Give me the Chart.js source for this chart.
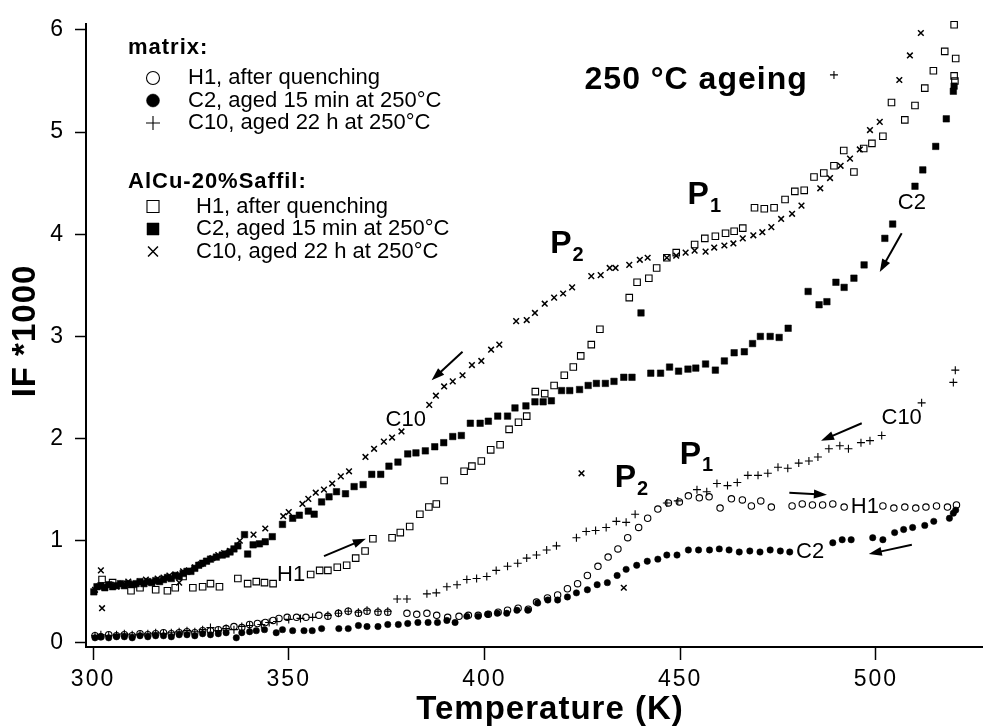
<!DOCTYPE html>
<html lang="en">
<head>
<meta charset="utf-8">
<title>IF *1000 vs Temperature - 250 °C ageing</title>
<script src="https://cdn.jsdelivr.net/npm/chart.js@4.4.1/dist/chart.umd.min.js"></script>
<style>
    html, body { margin: 0; padding: 0; background: #fff; }
    #wrap { width: 988px; height: 728px; }
</style>
</head>
<body>
<div id="wrap"><canvas id="chart" width="988" height="728"></canvas></div>
<script>
/* ============================================
   IF*1000 vs TEMPERATURE - 250 °C ageing
   ============================================ */

const FONT = "'Liberation Sans', Arial, Helvetica, sans-serif";

// ============================================
// DATA
// ============================================

const xTicks = [300, 350, 400, 450, 500];
const yTicks = [0, 1, 2, 3, 4, 5, 6];

// matrix - H1, after quenching (open circles)
const matrixH1T = [300.5, 302, 304, 306, 308, 310, 312, 314, 316, 318, 320, 322, 324, 326, 328, 330, 332, 334, 336, 338,
    340, 342, 344, 346, 347.5, 349.6, 352, 354.4, 357.7, 360, 362.7, 365.2, 367.8, 370, 372.8, 375.3, 380.2, 382.7, 385.3,
    387.8, 390.6, 393.5, 395.9, 398.4, 401, 403.5, 405.9, 408.6, 411.2, 413.3, 416.1, 418.7, 421.2, 423.8, 426.3, 429,
    431.6, 434.1, 436.6, 439.4, 441.7, 444.3, 447, 449.8, 452.1, 454.9, 457.4, 460.2, 463.1, 465.9, 468.2, 470.6, 473.3,
    478.6, 481.2, 483.8, 486.4, 489, 491.9, 501.8, 504.6, 507.4, 510.2, 512.8, 515.5, 518.3, 520.6];
const matrixH1IF = [0.07, 0.06, 0.08, 0.07, 0.08, 0.07, 0.09, 0.08, 0.09, 0.10, 0.09, 0.10, 0.11, 0.10, 0.12, 0.12, 0.13, 0.14, 0.16, 0.15,
    0.18, 0.19, 0.20, 0.22, 0.24, 0.25, 0.25, 0.25, 0.27, 0.26, 0.29, 0.31, 0.29, 0.31, 0.30, 0.30, 0.29, 0.28, 0.29,
    0.27, 0.25, 0.26, 0.27, 0.27, 0.28, 0.30, 0.32, 0.34, 0.33, 0.40, 0.44, 0.47, 0.53, 0.58, 0.66, 0.75,
    0.84, 0.92, 1.03, 1.13, 1.22, 1.31, 1.37, 1.38, 1.44, 1.42, 1.43, 1.32, 1.41, 1.40, 1.34, 1.39, 1.33,
    1.34, 1.36, 1.35, 1.35, 1.36, 1.33, 1.34, 1.32, 1.33, 1.32, 1.33, 1.34, 1.33, 1.35];

// matrix - C2, aged 15 min at 250 °C (filled circles)
const matrixC2T = [300.5, 302, 304, 306, 308, 310, 312, 314, 316, 318, 320, 322, 324, 326, 328, 330, 332, 334, 336.6, 338,
    340, 341.7, 343.8, 346.8, 348.4, 351, 353.9, 356, 358.4, 362.8, 365.2, 367.8, 370, 372.8, 375.3, 378, 380.4, 383,
    385.6, 388, 390.4, 392.5, 395.5, 398.4, 400.8, 403.3, 405.7, 408.3, 411.1, 413.6, 416.2, 418.7, 421.2, 423.5, 426.3,
    428.8, 431.4, 433.9, 436.2, 438.9, 441.6, 444.3, 446.6, 449.2, 452.1, 454.7, 457.5, 460, 462.5, 465.1, 467.8, 470.4,
    473, 475.6, 478, 489, 491.4, 493.7, 499.2, 501.8, 504.8, 507.1, 509.4, 512.5, 514.8, 518.8, 519.8, 520.4];
const matrixC2IF = [0.05, 0.06, 0.05, 0.06, 0.06, 0.05, 0.07, 0.06, 0.07, 0.07, 0.06, 0.08, 0.08, 0.07, 0.09, 0.08, 0.09, 0.10, 0.05, 0.10,
    0.11, 0.12, 0.13, 0.10, 0.13, 0.12, 0.12, 0.12, 0.14, 0.14, 0.14, 0.17, 0.16, 0.16, 0.18, 0.18, 0.19, 0.20,
    0.20, 0.20, 0.22, 0.20, 0.26, 0.26, 0.28, 0.29, 0.29, 0.32, 0.32, 0.39, 0.42, 0.42, 0.45, 0.49, 0.52,
    0.57, 0.59, 0.66, 0.72, 0.76, 0.80, 0.82, 0.86, 0.86, 0.91, 0.91, 0.91, 0.92, 0.91, 0.89, 0.90, 0.89,
    0.91, 0.90, 0.89, 0.98, 1.01, 1.01, 1.03, 1.01, 1.08, 1.11, 1.13, 1.15, 1.19, 1.22, 1.27, 1.30];

// matrix - C10, aged 22 h at 250 °C (plus)
const matrixC10T = [300.5, 302, 304, 306, 308, 310, 312, 314, 316, 318, 320, 322, 324, 326, 328, 330, 332, 334, 336, 338,
    340, 343, 345, 347, 350, 353, 356.1, 360, 362.7, 365.2, 367.8, 370, 372.8, 375.3, 377.7, 380.2, 385.3, 387.7, 390.4,
    393, 395.5, 398, 400.6, 403, 405.9, 408.5, 410.8, 413.3, 415.9, 418.4, 423.5, 426, 428.4, 431.1, 433.7, 436.2, 438.5,
    446.6, 449.4, 454.3, 456.8, 459.4, 462.1, 464.6, 467.3, 469.9, 472.4, 475, 477.5, 480.3, 482.9, 485.2, 488, 490.8,
    493, 496.2, 498.5, 501.5, 511.7, 519.8, 520.3, 489.3];
const matrixC10IF = [0.07, 0.08, 0.07, 0.08, 0.09, 0.08, 0.08, 0.09, 0.10, 0.09, 0.10, 0.11, 0.12, 0.11, 0.13, 0.15, 0.12, 0.14, 0.13, 0.16,
    0.17, 0.18, 0.20, 0.21, 0.23, 0.24, 0.25, 0.27, 0.29, 0.31, 0.30, 0.32, 0.31, 0.31, 0.43, 0.43, 0.48, 0.49, 0.55,
    0.57, 0.62, 0.63, 0.65, 0.71, 0.75, 0.78, 0.83, 0.86, 0.91, 0.95, 1.03, 1.09, 1.10, 1.13, 1.19, 1.18, 1.26,
    1.37, 1.39, 1.50, 1.48, 1.56, 1.54, 1.57, 1.64, 1.64, 1.66, 1.72, 1.71, 1.76, 1.78, 1.82, 1.90, 1.93,
    1.90, 1.96, 1.98, 2.03, 2.35, 2.55, 2.67, 5.56];

// AlCu-20%Saffil - H1, after quenching (open squares)
const saffilH1T = [302.3, 305, 309.7, 312, 316, 319, 321, 323, 325.5, 328, 330, 332.3, 337, 339.5, 341.7, 343.8, 346,
    355.6, 357.9, 360, 362.4, 364.8, 367.1, 369.5, 371.5, 376.4, 378.5, 380.9, 383.5, 385.8, 387.7, 389.7, 394.8, 396.8,
    399.2, 401.6, 404, 406.3, 408.7, 410.8, 413, 415.4, 417.8, 420.4, 422.7, 424.6, 427.3, 429.5, 437, 439, 442, 444,
    446.6, 449, 453.7, 456.3, 459, 461.6, 463.8, 466, 469, 471.5, 474, 476.8, 479.3, 481.7, 484.2, 486.7, 489.3, 491.8,
    494.4, 496.9, 499, 501.8, 504, 507.4, 510, 512.5, 514.7, 517.6, 520.4, 520, 520, 520.2];
const saffilH1IF = [0.62, 0.59, 0.51, 0.54, 0.52, 0.51, 0.54, 0.65, 0.54, 0.55, 0.58, 0.55, 0.63, 0.58, 0.60, 0.59, 0.58,
    0.67, 0.71, 0.71, 0.74, 0.76, 0.83, 0.90, 1.02, 1.03, 1.08, 1.14, 1.26, 1.33, 1.36, 1.59, 1.68, 1.73,
    1.78, 1.89, 1.94, 2.09, 2.16, 2.22, 2.46, 2.44, 2.52, 2.62, 2.70, 2.81, 2.92, 3.07, 3.38, 3.53, 3.57, 3.67,
    3.77, 3.82, 3.90, 3.96, 3.98, 4.01, 4.03, 4.06, 4.26, 4.25, 4.26, 4.34, 4.42, 4.43, 4.56, 4.60, 4.67, 4.82,
    4.61, 4.84, 4.89, 4.96, 5.29, 5.12, 5.26, 5.43, 5.60, 5.79, 5.72, 6.05, 5.55, 5.50];

// AlCu-20%Saffil - C2, aged 15 min at 250 °C (filled squares)
const saffilC2T = [300.2, 301, 302, 303, 304, 305, 306, 307, 308, 309, 310, 311, 312, 313, 314, 315, 316, 317, 318, 319,
    320, 321, 322, 323, 324, 325, 326, 327, 328, 329, 330, 331.5, 333, 334, 335, 336, 337, 338.7, 339.5, 340.9, 342.5,
    344, 345.8, 348.4, 351, 352.7, 355, 356.5, 358.4, 360.3, 362.2, 364.5, 366.7, 369, 371.2, 373.5, 375.6, 377.9, 380.4,
    382.5, 384.9, 387.3, 389.6, 391.9, 394.1, 396.4, 398.9, 401, 403.4, 405.9, 407.8, 410.6, 412.9, 415, 417.1, 419.7,
    421.8, 424.3, 426.5, 428.6, 430.9, 433.1, 435.6, 437.7, 440, 442.5, 445, 447.3, 449.6, 452, 454, 456.5, 459, 461.3,
    463.8, 466.4, 468.5, 470.5, 473, 475.3, 477.6, 482.7, 485.5, 487.5, 489.8, 491.9, 494.4, 497, 502.3, 504.3, 510, 512,
    515.3, 518, 519.8, 520];
const saffilC2IF = [0.50, 0.55, 0.56, 0.54, 0.57, 0.55, 0.56, 0.58, 0.56, 0.58, 0.57, 0.58, 0.60, 0.58, 0.60, 0.59, 0.61, 0.60, 0.62, 0.64,
    0.63, 0.66, 0.65, 0.68, 0.70, 0.70, 0.73, 0.76, 0.78, 0.80, 0.82, 0.84, 0.86, 0.87, 0.89, 0.92, 0.95, 1.06, 0.87, 0.96, 0.97,
    0.99, 1.04, 1.16, 1.22, 1.25, 1.29, 1.26, 1.38, 1.43, 1.48, 1.46, 1.53, 1.55, 1.65, 1.65, 1.73, 1.77, 1.85,
    1.86, 1.88, 1.92, 1.96, 2.02, 2.03, 2.15, 2.15, 2.17, 2.22, 2.22, 2.30, 2.32, 2.36, 2.36, 2.37, 2.47,
    2.47, 2.48, 2.52, 2.54, 2.54, 2.56, 2.60, 2.60, 3.23, 2.64, 2.64, 2.70, 2.66, 2.68, 2.69, 2.73, 2.67, 2.76,
    2.84, 2.85, 2.93, 3.00, 3.00, 2.99, 3.08, 3.44, 3.31, 3.34, 3.53, 3.48, 3.57, 3.70, 3.96, 4.10, 4.47, 4.63,
    4.86, 5.13, 5.40, 5.45];

// AlCu-20%Saffil - C10, aged 22 h at 250 °C (x)
const saffilC10T = [300.5, 301.5, 302, 302.3, 303, 304.5, 306, 307.5, 309, 310.5, 312, 313.5, 315, 316.5, 318, 319.5, 321,
    322, 323, 324.5, 326, 327.5, 329, 330.5, 332, 333.5, 335, 337.5, 341, 344, 348.6, 350, 353.5, 355, 356.9, 359, 361.1,
    363.3, 365.4, 369.6, 371.8, 374.3, 376.4, 378.8, 385.9, 387.6, 389.7, 391.9, 394.4, 396.8, 399.2, 401.7, 403.8, 408.1,
    410.8, 412.9, 415.4, 417.8, 420.1, 422.4, 424.8, 427.3, 429.7, 432, 433.5, 435.6, 437, 439.7, 441.7, 446.6, 449,
    451.4, 453.7, 456.5, 458.7, 461.3, 463.6, 466, 468.7, 471, 473.3, 475.8, 478.6, 481, 485.8, 488.3, 491, 493.4, 495.9,
    498.5, 501, 506, 508.7, 511.5];
const saffilC10IF = [0.52, 0.55, 0.71, 0.34, 0.56, 0.57, 0.55, 0.58, 0.60, 0.57, 0.60, 0.62, 0.60, 0.63, 0.64, 0.66, 0.67,
    0.59, 0.70, 0.71, 0.74, 0.77, 0.80, 0.83, 0.86, 0.88, 0.90, 1.00, 1.06, 1.12, 1.24, 1.28, 1.36, 1.41, 1.47, 1.50, 1.56,
    1.63, 1.68, 1.82, 1.90, 1.97, 2.01, 2.07, 2.33, 2.42, 2.51, 2.56, 2.62, 2.72, 2.76, 2.87, 2.92, 3.15,
    3.16, 3.23, 3.32, 3.38, 3.42, 3.48, 1.66, 3.59, 3.60, 3.67, 3.67, 0.54, 3.70, 3.75, 3.77, 3.77, 3.79,
    3.82, 3.84, 3.83, 3.87, 3.89, 3.91, 3.96, 3.99, 4.02, 4.07, 4.15, 4.20, 4.28, 4.45, 4.55, 4.67, 4.74, 4.83,
    5.02, 5.10, 5.51, 5.75, 5.97];

// legend texts
const matrixLegend = ['H1, after quenching', 'C2, aged 15 min at 250\u00b0C', 'C10, aged 22 h at 250\u00b0C'];
const saffilLegend = ['H1, after quenching', 'C2, aged 15 min at 250\u00b0C', 'C10, aged 22 h at 250\u00b0C'];

// ============================================
// MARKER STYLES
// ============================================

const CLEAR = 'rgba(0,0,0,0)';

const seriesList = [
    { t: matrixH1T,  v: matrixH1IF,  style: 'circle',   r: 3.2, fill: CLEAR,  bw: 1.1, lr: 6.5 },
    { t: matrixC2T,  v: matrixC2IF,  style: 'circle',   r: 3.2, fill: '#000', bw: 0.5, lr: 6.5 },
    { t: matrixC10T, v: matrixC10IF, style: 'cross',    r: 4,   fill: CLEAR,  bw: 1.1, lr: 7 },
    { t: saffilH1T,  v: saffilH1IF,  style: 'rect',     r: 4.6, fill: CLEAR,  bw: 1.1, lr: 8.5 },
    { t: saffilC2T,  v: saffilC2IF,  style: 'rect',     r: 4.6, fill: '#000', bw: 0.5, lr: 8.5 },
    { t: saffilC10T, v: saffilC10IF, style: 'crossRot', r: 4,   fill: CLEAR,  bw: 1.5, lr: 7 }
];

function toPoints(ts, vs) {
    return ts.map((t, i) => ({ x: t, y: vs[i] }));
}

// ============================================
// OVERLAY (titles, legend, labels, arrows)
// ============================================

function drawAxisTitles(ctx) {
    ctx.fillStyle = '#000';
    ctx.font = `bold 33px ${FONT}`;
    ctx.letterSpacing = '1px';
    ctx.textAlign = 'center';
    ctx.textBaseline = 'middle';
    ctx.fillText('Temperature (K)', 550, 710);

    ctx.save();
    ctx.translate(26, 331);
    ctx.rotate(-Math.PI / 2);
    ctx.fillText('IF *1000', 0, 0);
    ctx.restore();
    ctx.letterSpacing = '0px';
}

function drawSymbol(ctx, s, x, y) {
    ctx.fillStyle = s.fill;
    ctx.strokeStyle = '#000';
    ctx.lineWidth = s.bw;
    Chart.helpers.drawPoint(ctx, { pointStyle: s.style, radius: s.lr, borderWidth: s.bw, rotation: 0 }, x, y);
}

function drawLegendBlock(ctx) {
    const groups = [
        { heading: 'matrix:', y: 48, textX: 188, rows: [78, 100.5, 123], items: matrixLegend, series: seriesList.slice(0, 3) },
        { heading: 'AlCu-20%Saffil:', y: 182, textX: 196, rows: [206.5, 229, 251.5], items: saffilLegend, series: seriesList.slice(3) }
    ];

    ctx.textAlign = 'left';
    ctx.textBaseline = 'middle';
    groups.forEach(g => {
        ctx.fillStyle = '#000';
        ctx.font = `bold 22px ${FONT}`;
        ctx.letterSpacing = '1px';
        ctx.fillText(g.heading, 128, g.y);
        ctx.letterSpacing = '0px';

        g.items.forEach((txt, i) => {
            drawSymbol(ctx, g.series[i], 153, g.rows[i]);
            ctx.fillStyle = '#000';
            ctx.font = `22px ${FONT}`;
            ctx.fillText(txt, g.textX, g.rows[i]);
        });
    });
}

function drawArrow(ctx, x1, y1, x2, y2) {
    const ang = Math.atan2(y2 - y1, x2 - x1);
    const len = 13, half = 4.5;
    ctx.strokeStyle = '#000';
    ctx.fillStyle = '#000';
    ctx.lineWidth = 2;
    ctx.beginPath();
    ctx.moveTo(x1, y1);
    ctx.lineTo(x2 - Math.cos(ang) * len * 0.8, y2 - Math.sin(ang) * len * 0.8);
    ctx.stroke();
    ctx.beginPath();
    ctx.moveTo(x2, y2);
    ctx.lineTo(x2 - Math.cos(ang) * len + Math.sin(ang) * half, y2 - Math.sin(ang) * len - Math.cos(ang) * half);
    ctx.lineTo(x2 - Math.cos(ang) * len - Math.sin(ang) * half, y2 - Math.sin(ang) * len + Math.cos(ang) * half);
    ctx.closePath();
    ctx.fill();
}

function drawNotes(ctx, xs, ys) {
    const px = v => xs.getPixelForValue(v);
    const py = v => ys.getPixelForValue(v);

    // title inside the plot
    ctx.fillStyle = '#000';
    ctx.font = `bold 32px ${FONT}`;
    ctx.letterSpacing = '1px';
    ctx.textAlign = 'right';
    ctx.textBaseline = 'middle';
    ctx.fillText('250 \u00b0C ageing', px(482.6), py(5.51));
    ctx.letterSpacing = '0px';

    // peak labels P1 / P2
    const peaks = [
        { sub: '1', t: 451.9, v: 4.38 },
        { sub: '2', t: 416.8, v: 3.90 },
        { sub: '1', t: 449.9, v: 1.84 },
        { sub: '2', t: 433.3, v: 1.61 }
    ];
    ctx.textAlign = 'left';
    peaks.forEach(p => {
        const x = px(p.t), y = py(p.v);
        ctx.font = `bold 32px ${FONT}`;
        ctx.fillText('P', x, y);
        const w = ctx.measureText('P').width;
        ctx.font = `bold 20px ${FONT}`;
        ctx.fillText(p.sub, x + w + 1, y + 11);
    });

    // curve labels
    const names = [
        { text: 'C2',  t: 509.2, v: 4.31 },
        { text: 'C10', t: 379.9, v: 2.18 },
        { text: 'H1',  t: 350.6, v: 0.67 },
        { text: 'C10', t: 506.6, v: 2.20 },
        { text: 'H1',  t: 497.2, v: 1.33 },
        { text: 'C2',  t: 483.2, v: 0.89 }
    ];
    ctx.font = `22px ${FONT}`;
    ctx.textAlign = 'center';
    names.forEach(n => ctx.fillText(n.text, px(n.t), py(n.v)));

    // arrows (from -> to)
    const arrows = [
        [506.6, 4.01, 501.0, 3.63],
        [394.4, 2.85, 386.5, 2.57],
        [359.0, 0.85, 369.7, 1.02],
        [496.4, 2.15, 486.0, 1.98],
        [477.9, 1.47, 487.5, 1.45],
        [509.2, 0.96, 498.2, 0.87]
    ];
    arrows.forEach(a => drawArrow(ctx, px(a[0]), py(a[1]), px(a[2]), py(a[3])));
}

const overlayPlugin = {
    id: 'overlay',
    beforeDraw(chart) {
        chart.ctx.letterSpacing = '2px';
    },
    beforeDatasetsDraw(chart) {
        chart.ctx.letterSpacing = '0px';
    },
    afterDatasetsDraw(chart) {
        const ctx = chart.ctx;
        ctx.save();
        drawAxisTitles(ctx);
        drawLegendBlock(ctx);
        drawNotes(ctx, chart.scales.x, chart.scales.y);
        ctx.restore();
    }
};

// ============================================
// CHART
// ============================================

function buildChart() {
    const datasets = seriesList.map(s => ({
        data: toPoints(s.t, s.v),
        showLine: false,
        clip: false,
        pointStyle: s.style,
        pointRadius: s.r,
        pointHoverRadius: s.r,
        pointBorderWidth: s.bw,
        pointBackgroundColor: s.fill,
        pointBorderColor: '#000'
    }));

    const axisLine = { display: true, color: '#000', width: 2 };

    new Chart(document.getElementById('chart'), {
        type: 'scatter',
        data: { datasets },
        options: {
            responsive: false,
            animation: false,
            events: [],
            layout: { padding: { top: 15, right: 2, bottom: 0, left: 0 } },
            plugins: {
                legend: { display: false },
                tooltip: { enabled: false }
            },
            scales: {
                x: {
                    type: 'linear',
                    min: 298.2,
                    max: 527.2,
                    border: axisLine,
                    grid: { drawOnChartArea: false, drawTicks: true, tickLength: 13, tickWidth: 1.5, tickColor: '#000' },
                    ticks: { color: '#000', padding: 6, font: { family: FONT, size: 23 } },
                    afterBuildTicks: s => { s.ticks = xTicks.map(v => ({ value: v })); },
                    afterFit: s => { s.height = 81; }
                },
                y: {
                    type: 'linear',
                    min: -0.04,
                    max: 6.06,
                    border: axisLine,
                    grid: { drawOnChartArea: false, drawTicks: true, tickLength: 11, tickWidth: 1.5, tickColor: '#000' },
                    ticks: { color: '#000', padding: 10, font: { family: FONT, size: 23 } },
                    afterBuildTicks: s => { s.ticks = yTicks.map(v => ({ value: v })); },
                    afterFit: s => { s.width = 86; }
                }
            }
        },
        plugins: [overlayPlugin]
    });
}

buildChart();
</script>
</body>
</html>
